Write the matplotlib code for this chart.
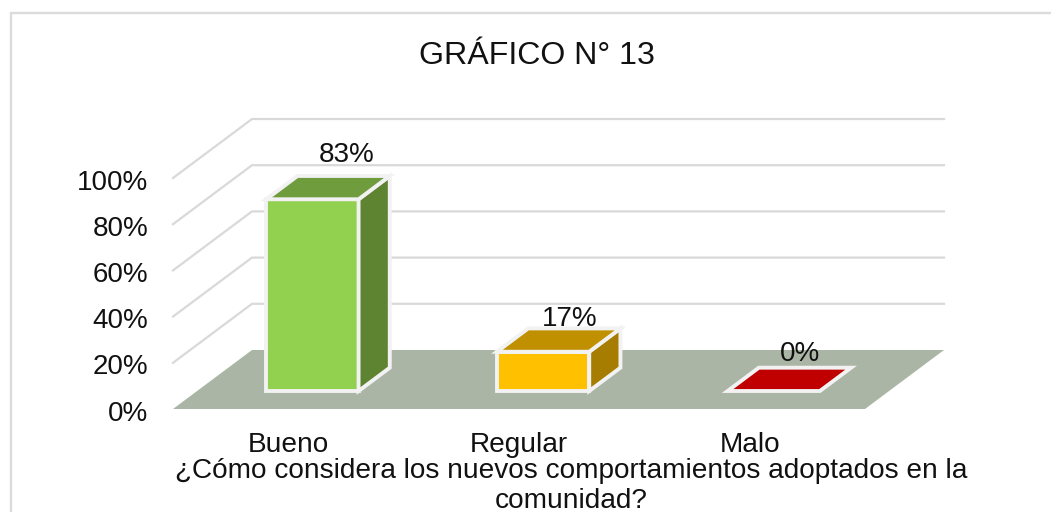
import matplotlib
matplotlib.use("Agg")
import matplotlib.pyplot as plt
from matplotlib.patches import Polygon
from matplotlib.lines import Line2D

plt.rcParams['font.family'] = ['Liberation Sans', 'DejaVu Sans']

title = "GRÁFICO N° 13"
categories = ["Bueno", "Regular", "Malo"]
values = [83, 17, 0]
value_labels = ["83%", "17%", "0%"]
yticks = [0, 20, 40, 60, 80, 100]
ytick_labels = ["0%", "20%", "40%", "60%", "80%", "100%"]
xlabel = "¿Cómo considera los nuevos comportamientos adoptados en la\ncomunidad?"
front_colors = ["#92D050", "#FFC000", "#C00000"]
top_colors = ["#6F9C3C", "#C09000", "#900000"]
side_colors = ["#5F8431", "#A67D00", "#7D0000"]

W, H = 1051, 512
fig = plt.figure(figsize=(W / 100, H / 100), dpi=100, facecolor="white")
fig.add_artist(Line2D([10.5 / W, 10.5 / W, 1], [0, 1 - 13 / H, 1 - 13 / H], transform=fig.transFigure,
                      color="#DCDCDC", lw=1.7, solid_joinstyle="miter"))
ax = fig.add_axes([173 / W, (H - 409) / H, 692 / W, 231 / H])
ax.set_xlim(-0.5, 2.5)
ax.set_ylim(0, 100)
ax.axis("off")

PX_X = 692 / 3        # pixels per category
PX_Y = 2.31           # pixels per percent
DX = 79 / PX_X        # category units per full depth
DY = 59 / PX_Y        # percent units per full depth


def p(x, y, d):
    return (x + d * DX, y + d * DY)


def poly(points, **kw):
    ax.add_patch(Polygon(points, closed=True, clip_on=False, **kw))


# gridlines
for t in yticks[1:]:
    ax.plot(*zip(p(-0.5, t, 0), p(-0.5, t, 1), p(2.5, t, 1)), color="#D9D9D9", lw=1.6,
            clip_on=False, zorder=1)

# floor
poly([p(-0.5, 0, 0), p(2.5, 0, 0), p(2.5, 0, 1), p(-0.5, 0, 1)], fc="#ABB5A5", ec="none", zorder=2)

# bars
hw = 0.2
d0, d1 = 0.305, 0.70
edge = dict(ec="#F2F2F2", lw=2.8, joinstyle="miter", zorder=3)
label_dx = [3, -5, -5]   # pixel nudges of the value labels
label_dy = [6.5, -4.5, -0.5]
for i, v in enumerate(values):
    if v > 0:
        poly([p(i - hw, 0, d0), p(i + hw, 0, d0), p(i + hw, v, d0), p(i - hw, v, d0)], fc=front_colors[i], **edge)
        poly([p(i + hw, 0, d0), p(i + hw, 0, d1), p(i + hw, v, d1), p(i + hw, v, d0)], fc=side_colors[i], **edge)
        poly([p(i - hw, v, d0), p(i + hw, v, d0), p(i + hw, v, d1), p(i - hw, v, d1)], fc=top_colors[i], **edge)
    else:
        poly([p(i - hw, v, d0), p(i + hw, v, d0), p(i + hw, v, d1), p(i - hw, v, d1)], fc=front_colors[i], **edge)
    x, y = p(i, v, d1)
    ax.text(x + label_dx[i] / PX_X, y + 0.6 + label_dy[i] / PX_Y, value_labels[i], ha="center", va="bottom",
            fontsize=20, color="#111111", clip_on=False, zorder=4)

# axis labels
for t, s in zip(yticks, ytick_labels):
    ax.text(-0.5 - 25 / PX_X, t - 2, s, ha="right", va="center", fontsize=20, color="#111111", clip_on=False)
for i, c in enumerate(categories):
    ax.text(i, -15.4, c, ha="center", va="center", fontsize=20.2, color="#111111", clip_on=False)

fig.text(571 / W, 1 - 486 / H, xlabel, ha="center", va="center", fontsize=20.2, color="#111111", linespacing=1.2)
fig.text(536.5 / W, 1 - 56 / H, title, ha="center", va="center", fontsize=23.1, color="#111111")

fig.savefig("out.png", dpi=100)
